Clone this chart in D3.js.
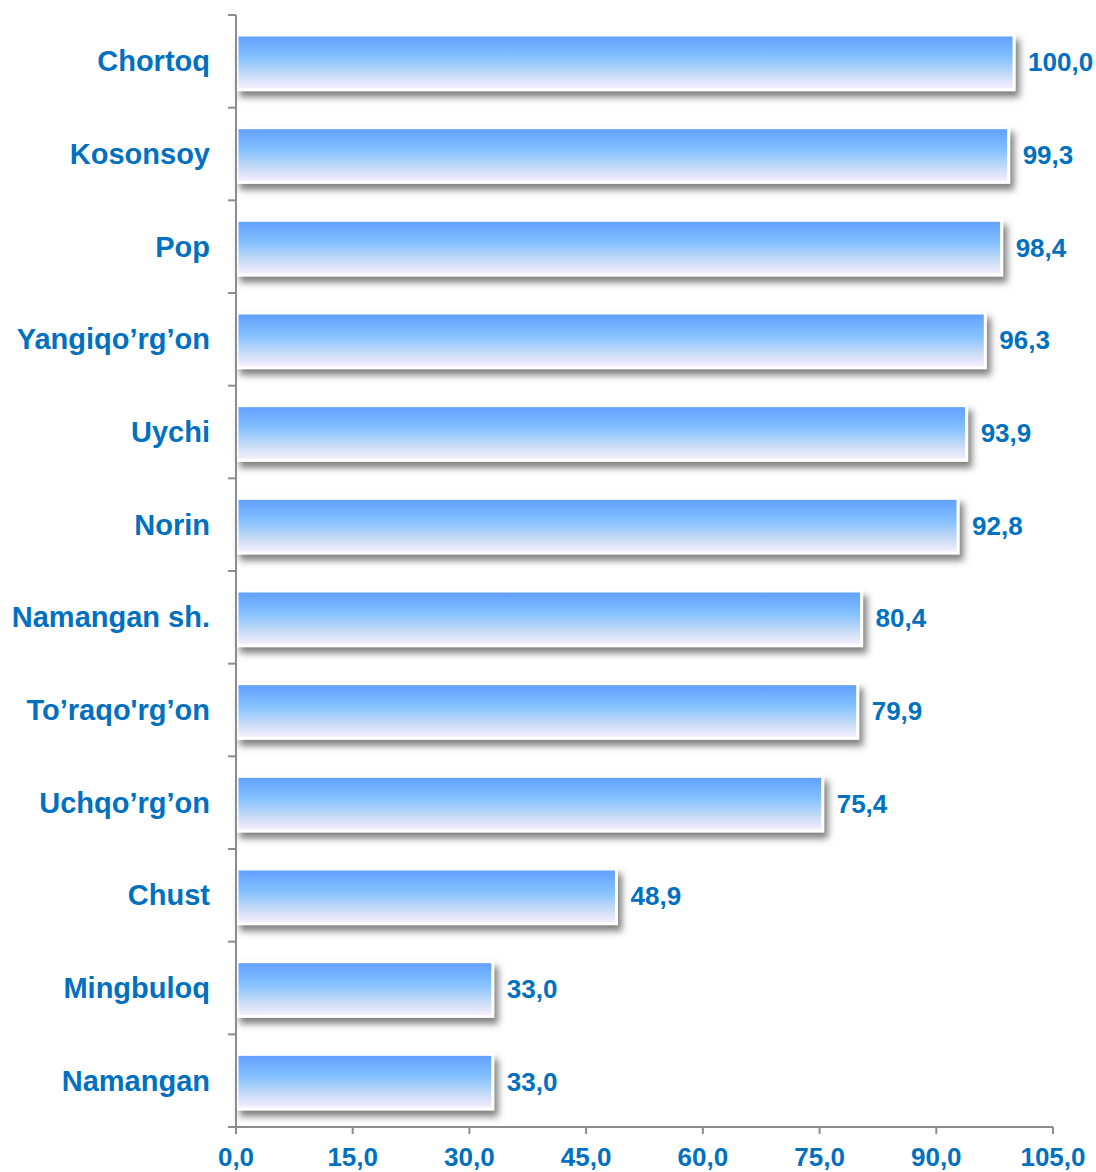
<!DOCTYPE html>
<html>
<head>
<meta charset="utf-8">
<script src="https://cdn.jsdelivr.net/npm/d3@7"></script>
<style>
  html, body { margin: 0; padding: 0; background: #fff; }
  svg text { font-family: "Liberation Sans", Arial, sans-serif; font-weight: bold; fill: #0070C0; }
</style>
</head>
<body>
<div id="chart"></div>
<script>
'use strict';

const categories = ["Chortoq", "Kosonsoy", "Pop", "Yangiqo’rg’on", "Uychi", "Norin",
  "Namangan sh.", "To’raqo'rg’on", "Uchqo’rg’on", "Chust", "Mingbuloq", "Namangan"];
const values = [100.0, 99.3, 98.4, 96.3, 93.9, 92.8, 80.4, 79.9, 75.4, 48.9, 33.0, 33.0];
const tickValues = [0, 15, 30, 45, 60, 75, 90, 105];

const width = 1096, height = 1172;
const margin = { top: 15, right: 43, bottom: 45, left: 236 };

const fmt = d => d.toFixed(1).replace(".", ",");

const svg = d3.select("#chart").append("svg")
  .attr("width", width)
  .attr("height", height);

const defs = svg.append("defs");

let grad = defs.append("linearGradient")
  .attr("id", "barGrad")
  .attr("x1", 0).attr("y1", 0).attr("x2", 0).attr("y2", 1);
grad.append("stop").attr("offset", "0%").attr("stop-color", "#5f9eff");
grad.append("stop").attr("offset", "40%").attr("stop-color", "#82c0ff");
grad.append("stop").attr("offset", "72%").attr("stop-color", "#c4daf6");
grad.append("stop").attr("offset", "100%").attr("stop-color", "#fbf0ff");

let shadow = defs.append("filter")
  .attr("id", "shadow")
  .attr("x", "-5%").attr("y", "-30%")
  .attr("width", "115%").attr("height", "180%");
shadow.append("feDropShadow")
  .attr("dx", 4).attr("dy", 6)
  .attr("stdDeviation", 3.5)
  .attr("flood-color", "#555")
  .attr("flood-opacity", 0.75);

const x = d3.scaleLinear()
  .domain([0, 105])
  .range([margin.left, width - margin.right]);

const y = d3.scaleBand()
  .domain(categories)
  .range([margin.top, height - margin.bottom])
  .paddingInner(0.41)
  .paddingOuter(0.205);

const axisY = height - margin.bottom;
const step = y.step();

// bars
svg.selectAll(".bar")
  .data(values)
  .enter().append("rect")
  .attr("class", "bar")
  .attr("x", x(0) + 1)
  .attr("y", (d, i) => y(categories[i]) + 1)
  .attr("width", d => x(d) - x(0) - 1)
  .attr("height", y.bandwidth())
  .attr("fill", "url(#barGrad)")
  .attr("stroke", "#ffffff")
  .attr("stroke-width", 3)
  .attr("filter", "url(#shadow)");

// x axis
svg.append("line")
  .attr("x1", x(0)).attr("x2", x(105))
  .attr("y1", axisY).attr("y2", axisY)
  .attr("stroke", "#8c8c8c").attr("stroke-width", 2);

svg.selectAll(".xtick")
  .data(tickValues)
  .enter().append("line")
  .attr("x1", d => x(d)).attr("x2", d => x(d))
  .attr("y1", axisY).attr("y2", axisY + 7)
  .attr("stroke", "#8c8c8c").attr("stroke-width", 2);

svg.selectAll(".xlabel")
  .data(tickValues)
  .enter().append("text")
  .attr("x", d => x(d))
  .attr("y", axisY + 39)
  .attr("text-anchor", "middle")
  .attr("font-size", "26px")
  .text(fmt);

// y axis
svg.append("line")
  .attr("x1", x(0)).attr("x2", x(0))
  .attr("y1", margin.top).attr("y2", axisY)
  .attr("stroke", "#8c8c8c").attr("stroke-width", 2);

svg.selectAll(".ytick")
  .data(d3.range(categories.length + 1))
  .enter().append("line")
  .attr("x1", x(0) - 8).attr("x2", x(0))
  .attr("y1", i => margin.top + i * step)
  .attr("y2", i => margin.top + i * step)
  .attr("stroke", "#8c8c8c").attr("stroke-width", 2);

svg.selectAll(".ylabel")
  .data(categories)
  .enter().append("text")
  .attr("x", 210)
  .attr("y", d => y(d) + y.bandwidth() / 2)
  .attr("dy", "0.35em")
  .attr("text-anchor", "end")
  .attr("font-size", "29px")
  .text(d => d);

// value labels
svg.selectAll(".vlabel")
  .data(values)
  .enter().append("text")
  .attr("x", d => x(d) + 14)
  .attr("y", (d, i) => y(categories[i]) + y.bandwidth() / 2 + 1)
  .attr("dy", "0.35em")
  .attr("font-size", "26px")
  .text(fmt);
</script>
</body>
</html>
